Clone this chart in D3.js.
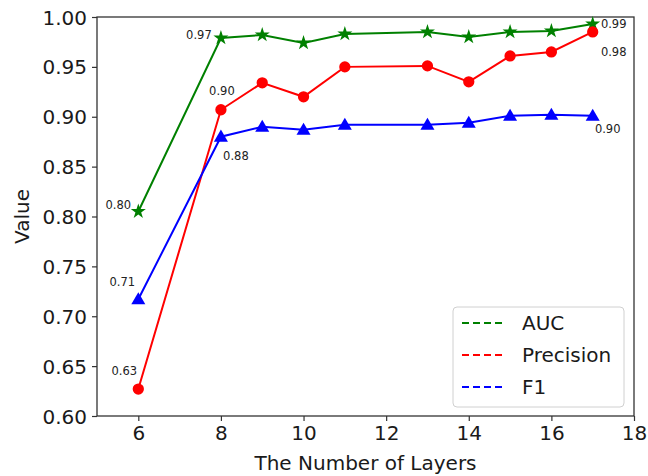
<!DOCTYPE html>
<html><head><meta charset="utf-8">
<script src="https://cdn.jsdelivr.net/npm/d3@7"></script>
<style>body{margin:0;background:#fff}svg{display:block}text{font-family:"DejaVu Sans",sans-serif}</style>
</head><body><svg id="c" width="648" height="476"></svg>
<script>
const layers = [6, 8, 9, 10, 11, 13, 14, 15, 16, 17];
const auc = [0.805, 0.979, 0.982, 0.974, 0.983, 0.985, 0.980, 0.985, 0.986, 0.993];
const precision = [0.627, 0.907, 0.934, 0.920, 0.950, 0.951, 0.935, 0.961, 0.965, 0.985];
const f1 = [0.717, 0.880, 0.890, 0.887, 0.892, 0.892, 0.894, 0.901, 0.902, 0.901];
const seriesNames = ["AUC", "Precision", "F1"];
const xTicks = [6, 8, 10, 12, 14, 16, 18];
const yTicks = [0.60, 0.65, 0.70, 0.75, 0.80, 0.85, 0.90, 0.95, 1.00];
// annotations: [series index, point index, label text]
const annotations = [
  [0, 0, "0.80"], [0, 1, "0.97"], [0, 9, "0.99"],
  [1, 0, "0.63"], [1, 1, "0.90"], [1, 9, "0.98"],
  [2, 0, "0.71"], [2, 1, "0.88"], [2, 9, "0.90"]
];

const svg = d3.select("#c");
const L = 97, R = 634, T = 17, B = 416;
const x = d3.scaleLinear().domain([5, 18]).range([L, R]);
const y = d3.scaleLinear().domain([0.6, 1.0]).range([B, T]);
const colors = ["#008000", "#ff0000", "#0000ff"];
const data = [auc, precision, f1];
const axisColor = "#333";

// axes
const xAxis = svg.append("g").attr("transform", `translate(0,${B})`)
  .call(d3.axisBottom(x).tickValues(xTicks).tickFormat(d3.format("d")).tickSize(5).tickPadding(5));
const yAxis = svg.append("g").attr("transform", `translate(${L},0)`)
  .call(d3.axisLeft(y).tickValues(yTicks).tickFormat(d3.format(".2f")).tickSize(5).tickPadding(5));
[xAxis, yAxis].forEach(g => {
  g.select(".domain").remove();
  g.selectAll("line").attr("stroke", axisColor).attr("stroke-width", 1.2);
  g.selectAll("text").attr("fill", "#1a1a1a").style("font-size", "20px").style("font-family", "DejaVu Sans");
});
yAxis.selectAll("text").attr("dy", "0.35em");
// frame
svg.append("rect").attr("x", L).attr("y", T).attr("width", R - L).attr("height", B - T)
  .attr("fill", "none").attr("stroke", axisColor).attr("stroke-width", 1.3);

// axis labels
svg.append("text").attr("x", (L + R) / 2).attr("y", 470).attr("text-anchor", "middle")
  .attr("fill", "#1a1a1a").style("font-size", "20px").text("The Number of Layers");
svg.append("text").attr("transform", `translate(29,${(T + B) / 2}) rotate(-90)`).attr("text-anchor", "middle")
  .attr("fill", "#1a1a1a").style("font-size", "20px").text("Value");

// lines
const line = d3.line().x((d, i) => x(layers[i])).y(d => y(d));
data.forEach((vals, k) => {
  svg.append("path").datum(vals).attr("d", line).attr("fill", "none")
    .attr("stroke", colors[k]).attr("stroke-width", 2);
});
// markers
const symbols = [d3.symbolStar, d3.symbolCircle, d3.symbolTriangle];
const sizes = [70, 100, 85];
data.forEach((vals, k) => {
  svg.append("g").selectAll("path").data(vals).join("path")
    .attr("transform", (d, i) => `translate(${x(layers[i])},${y(d) + (k === 2 ? 1 : 0)})`)
    .attr("d", d3.symbol().type(symbols[k]).size(sizes[k]))
    .attr("fill", colors[k]);
});

// annotation offsets (label centre relative to point)
const offsets = {
  "0-0": [-20, -7], "0-1": [-22, -3], "0-9": [21, 0],
  "1-0": [-14, -18], "1-1": [1, -19], "1-9": [21, 20],
  "2-0": [-16, -17], "2-1": [15, 19], "2-9": [15, 13]
};
annotations.forEach(([k, i, t]) => {
  const o = offsets[k + "-" + i];
  svg.append("text").attr("x", x(layers[i]) + o[0]).attr("y", y(data[k][i]) + o[1])
    .attr("text-anchor", "middle").attr("dy", "0.35em")
    .attr("fill", "#222").style("font-size", "11.5px").text(t);
});

// legend
const lg = svg.append("g");
lg.append("rect").attr("x", 453).attr("y", 307).attr("width", 171).attr("height", 100)
  .attr("rx", 4).attr("fill", "#fff").attr("fill-opacity", 0.85).attr("stroke", "#d0d0d0").attr("stroke-width", 1);
seriesNames.forEach((n, k) => {
  const yy = 323 + k * 32;
  lg.append("line").attr("x1", 462).attr("x2", 504).attr("y1", yy).attr("y2", yy)
    .attr("stroke", colors[k]).attr("stroke-width", 1.8).attr("stroke-dasharray", "7,4");
  lg.append("text").attr("x", 522).attr("y", yy).attr("dy", "0.35em").attr("fill", "#1a1a1a")
    .style("font-size", "20px").text(n);
});
</script></body></html>
